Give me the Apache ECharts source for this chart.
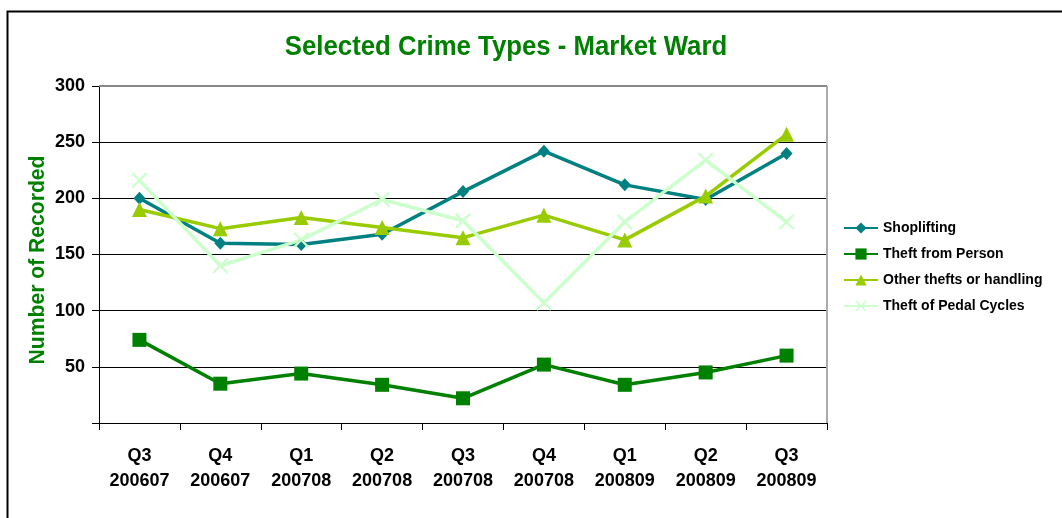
<!DOCTYPE html>
<html>
<head>
<meta charset="utf-8">
<script src="https://cdn.jsdelivr.net/npm/echarts@6/dist/echarts.min.js"></script>
<style>
  html, body { margin: 0; padding: 0; background: #fff; }
  #chart { width: 1062px; height: 518px; }
</style>
</head>
<body>
<div id="chart"></div>
<script>
// Quarterly recorded crimes, Market Ward
const quarters = ['Q3\n200607', 'Q4\n200607', 'Q1\n200708', 'Q2\n200708', 'Q3\n200708',
                  'Q4\n200708', 'Q1\n200809', 'Q2\n200809', 'Q3\n200809'];
const shoplifting      = [200, 160, 159, 168, 206, 242, 212, 199, 240];
const theftFromPerson  = [74, 35, 44, 34, 22, 52, 34, 45, 60];
const otherThefts      = [190, 173, 183, 174, 165, 185, 163, 202, 257];
const pedalCycles      = [216, 140, 163, 199, 180, 107, 179, 234, 179];
const yTicks = { min: 0, max: 300, interval: 50 };

const crossPath = 'path://M0,1L1,0L5,4L9,0L10,1L6,5L10,9L9,10L5,6L1,10L0,9L4,5Z';
const labelFont = '"Liberation Sans", Arial, sans-serif';

function lineSeries(name, data, color, symbol, size) {
  return {
    name, type: 'line', data,
    symbol, symbolSize: size,
    lineStyle: { color, width: 3.5 },
    itemStyle: { color },
    emphasis: { disabled: true },
    animation: false
  };
}

const chart = echarts.init(document.getElementById('chart'), null, { renderer: 'canvas' });
chart.setOption({
  backgroundColor: '#ffffff',
  animation: false,
  grid: { left: 99, top: 86, right: 235, bottom: 95, show: false },
  graphic: [
    { type: 'rect', left: 5, top: 9, shape: { width: 1100, height: 600 },
      style: { fill: 'none', stroke: '#000', lineWidth: 2 }, silent: true },
    { type: 'line', shape: { x1: 99, y1: 86, x2: 827, y2: 86 },
      style: { stroke: '#888', lineWidth: 2 }, z: 5, silent: true },
    { type: 'line', shape: { x1: 827, y1: 86, x2: 827, y2: 423 },
      style: { stroke: '#aaa', lineWidth: 2 }, z: 5, silent: true },
    { type: 'text', x: 506, y: 47, scaleX: 0.92,
      style: { text: 'Selected Crime Types - Market Ward', fill: '#008000',
               font: 'bold 28px ' + labelFont, textAlign: 'center', textVerticalAlign: 'middle' } },
    { type: 'text', x: 38, y: 260, rotation: Math.PI / 2, scaleX: 0.96,
      style: { text: 'Number of Recorded', fill: '#008000',
               font: 'bold 22px ' + labelFont, textAlign: 'center', textVerticalAlign: 'middle' } }
  ],
  legend: {
    orient: 'vertical', left: 843, top: 221, padding: 0,
    itemWidth: 34, itemHeight: 14, itemGap: 12,
    textStyle: { fontFamily: labelFont, fontWeight: 'bold', fontSize: 14, color: '#000' },
    data: ['Shoplifting', 'Theft from Person', 'Other thefts or handling', 'Theft of Pedal Cycles']
  },
  xAxis: {
    type: 'category', data: quarters, boundaryGap: true,
    axisLine: { lineStyle: { color: '#000', width: 1 } },
    axisTick: { show: true, length: 7, lineStyle: { color: '#000' } },
    axisLabel: { interval: 0, margin: 21, color: '#000', fontFamily: labelFont,
                 fontWeight: 'bold', fontSize: 18, lineHeight: 25 },
    splitLine: { show: false }
  },
  yAxis: {
    type: 'value', min: yTicks.min, max: yTicks.max, interval: yTicks.interval,
    axisLine: { show: true, lineStyle: { color: '#000', width: 1 } },
    axisTick: { show: true, length: 7, lineStyle: { color: '#000' } },
    axisLabel: { margin: 14, color: '#000', fontFamily: labelFont, fontWeight: 'bold', fontSize: 18,
                 formatter: v => (v === 0 ? '' : String(v)) },
    splitLine: { show: true, lineStyle: { color: '#000', width: 1 } }
  },
  series: [
    lineSeries('Shoplifting', shoplifting, '#008080', 'diamond', [12, 13]),
    lineSeries('Theft from Person', theftFromPerson, '#008000', 'rect', 14),
    lineSeries('Other thefts or handling', otherThefts, '#99CC00', 'triangle', 15),
    lineSeries('Theft of Pedal Cycles', pedalCycles, '#CCFFCC', crossPath, 16)
  ]
});
</script>
</body>
</html>
